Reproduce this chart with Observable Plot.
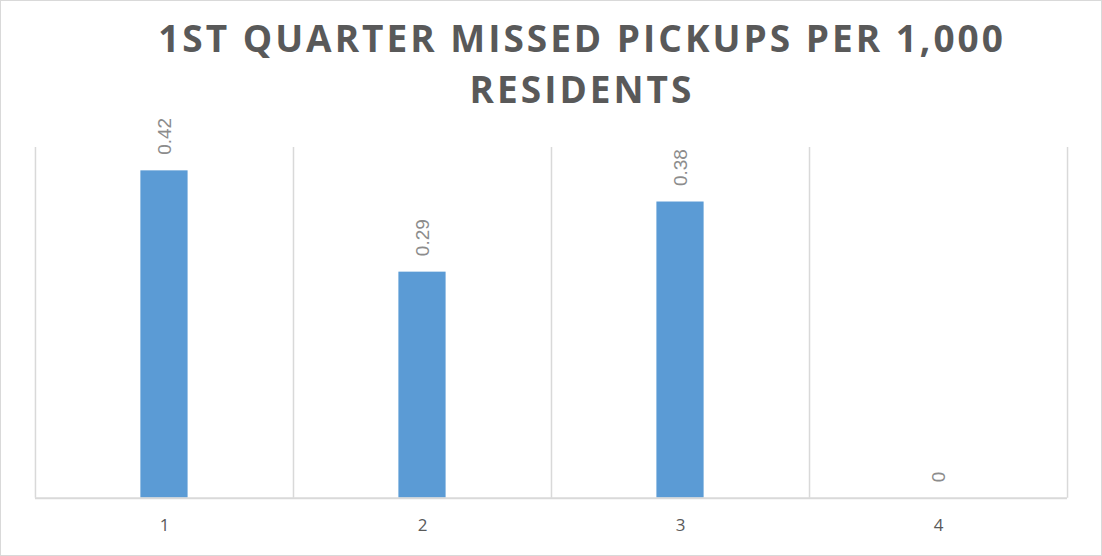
<!DOCTYPE html>
<html><head><meta charset="utf-8">
<script src="https://cdn.jsdelivr.net/npm/d3@7"></script>
<script src="https://cdn.jsdelivr.net/npm/@observablehq/plot@0.6"></script>
<style>
body{margin:0;background:#fff;}
#frame{position:relative;width:1102px;height:556px;box-sizing:border-box;border:1px solid #d9d9d9;overflow:hidden;background:#fff}
#title{position:absolute;left:0;width:1162px;top:11px;text-align:center;font-weight:bold;font-size:37px;font-family:"Open Sans",sans-serif;letter-spacing:3px;line-height:51px;color:#595959;white-space:nowrap}
#chart{position:absolute;left:-1px;top:109px}
</style></head><body>
<div id="frame"><div id="title">1ST QUARTER MISSED PICKUPS PER 1,000<br>RESIDENTS</div><div id="chart"></div></div>
<script>
const quarters = [1, 2, 3, 4];
const values = [0.42, 0.29, 0.38, 0];
const valueLabels = ["0.42", "0.29", "0.38", "0"];
const boundaries = [0.5, 1.5, 2.5, 3.5, 4.5];
const data = quarters.map((q, i) => ({q, v: values[i], label: valueLabels[i]}));

const chart = Plot.plot({
  width: 1102,
  height: 446,
  marginLeft: 35,
  marginRight: 34,
  marginTop: 37,
  marginBottom: 58,
  style: {fontFamily: "'Open Sans', sans-serif", background: "transparent", overflow: "visible"},
  x: {domain: [0.5, 4.5], axis: null},
  y: {domain: [0, 0.45], axis: null},
  marks: [
    Plot.ruleX(boundaries, {stroke: "#d9d9d9", strokeWidth: 1.5}),
    Plot.rectY(data, {x1: d => d.q - 0.5, x2: d => d.q + 0.5, y1: 0, y2: "v", fill: "#5b9bd5", insetLeft: 105.5, insetRight: 105.5}),
    Plot.ruleY([0], {stroke: "#d9d9d9", strokeWidth: 2}),
    Plot.axisX(quarters, {tickSize: 0, tickPadding: 21, fontSize: 17, fill: "#595959", tickFormat: d => String(d), label: null}),
    Plot.text(data, {x: "q", y: "v", text: "label", rotate: -90, textAnchor: "start", lineAnchor: "middle", dy: -16, fontSize: 19, fill: "#8c8c8c", fontFamily: "'Liberation Sans', sans-serif"})
  ]
});
document.getElementById("chart").appendChild(chart);
</script>
</body></html>
